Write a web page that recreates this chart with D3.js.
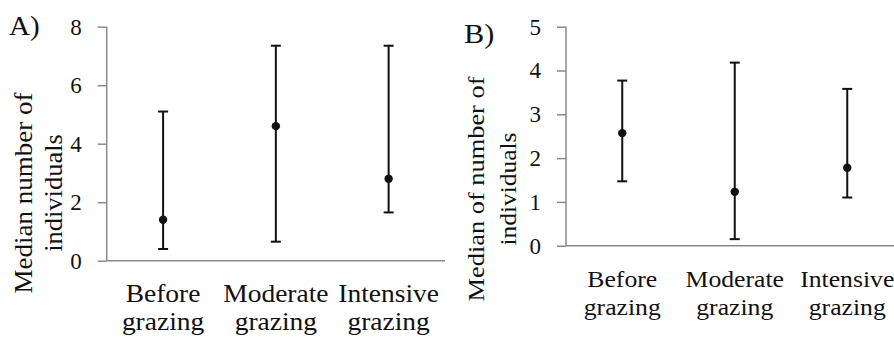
<!DOCTYPE html>
<html>
<head>
<meta charset="utf-8">
<script src="https://cdn.jsdelivr.net/npm/d3@7"></script>
<style>
  html, body { margin: 0; padding: 0; background: #fff; }
  svg { display: block; }
  text { font-family: "Liberation Serif", "Times New Roman", serif; fill: #111; }
</style>
</head>
<body>
<svg id="chart" width="894" height="337"></svg>
<script>
// Grazing treatments shared by both panels
const categories = ["Before grazing", "Moderate grazing", "Intensive grazing"];

// Panel A: median with lower / upper range
const medianA = [1.4, 4.6, 2.8];
const lowA = [0.4, 0.65, 1.65];
const highA = [5.1, 7.35, 7.35];
const ticksA = [0, 2, 4, 6, 8];

// Panel B: median with lower / upper range
const medianB = [2.57, 1.23, 1.78];
const lowB = [1.47, 0.15, 1.1];
const highB = [3.77, 4.18, 3.58];
const ticksB = [0, 1, 2, 3, 4, 5];

const svg = d3.select("#chart");
const axisColor = "#8a8a8a";

// Text with a slight horizontal stretch, optionally rotated
function label(g, str, x, y, size, opts = {}) {
  const rot = opts.rotate || 0;
  const sx = opts.stretch || 1.1;
  return g.append("text")
    .attr("transform", `translate(${x},${y}) rotate(${rot}) scale(${sx},1)`)
    .attr("text-anchor", opts.anchor || "middle")
    .style("font-size", size + "px")
    .text(str);
}

function panel(cfg) {
  const g = svg.append("g");
  const x = d3.scaleBand().domain(categories).range(cfg.xRange);
  const y = d3.scaleLinear().domain(cfg.yDomain).range(cfg.yRange);

  // y axis
  const ya = g.append("g")
    .attr("transform", `translate(${cfg.xRange[0]},0)`)
    .call(d3.axisLeft(y).tickValues(cfg.ticks).tickSize(9).tickPadding(16).tickFormat(d3.format("d")));
  ya.selectAll("path, line").attr("stroke", axisColor).attr("stroke-width", 1.5);
  ya.select(".domain").attr("d", `M0,${cfg.yRange[1]}V${cfg.yRange[0]}`);
  ya.selectAll("text")
    .style("font-family", '"Liberation Serif", serif')
    .style("font-size", cfg.tickSize + "px")
    .attr("fill", "#111");

  // x axis baseline
  const xa = g.append("g")
    .attr("transform", `translate(0,${cfg.yRange[0]})`)
    .call(d3.axisBottom(x).tickSize(0).tickFormat(""));
  xa.select(".domain").attr("stroke", axisColor).attr("stroke-width", 1.5)
    .attr("d", `M${cfg.xRange[0]},0H${cfg.xRange[1]}`);

  // two-line category labels
  categories.forEach(c => {
    const cx = x(c) + x.bandwidth() / 2;
    const parts = c.split(" ");
    label(g, parts[0], cx, cfg.catY[0], cfg.fontSize, { stretch: cfg.catStretch });
    label(g, parts[1], cx, cfg.catY[1], cfg.fontSize, { stretch: cfg.catStretch });
  });

  // range bars with caps and median points
  const cap = 5;
  const rows = categories.map((c, i) => ({ c, m: cfg.median[i], lo: cfg.low[i], hi: cfg.high[i] }));
  const bars = g.append("g").selectAll("g").data(rows).join("g")
    .attr("transform", d => `translate(${x(d.c) + x.bandwidth() / 2},0)`);
  bars.append("line").attr("y1", d => y(d.lo)).attr("y2", d => y(d.hi))
    .attr("stroke", "#111").attr("stroke-width", 2);
  bars.append("line").attr("x1", -cap).attr("x2", cap).attr("y1", d => y(d.hi)).attr("y2", d => y(d.hi))
    .attr("stroke", "#111").attr("stroke-width", 2);
  bars.append("line").attr("x1", -cap).attr("x2", cap).attr("y1", d => y(d.lo)).attr("y2", d => y(d.lo))
    .attr("stroke", "#111").attr("stroke-width", 2);
  bars.append("circle").attr("cy", d => y(d.m)).attr("r", 4.2).attr("fill", "#111");

  // axis titles and panel letter
  cfg.title.forEach((t, i) => label(g, t, cfg.titleX[i], cfg.titleY, cfg.fontSize, { rotate: -90, stretch: cfg.titleStretch[i] }));
  label(g, cfg.letter, cfg.letterX, cfg.letterY, cfg.letterSize, { anchor: "start", stretch: 1.08 });
}

panel({
  xRange: [106.7, 445], yRange: [260.7, 26.7], yDomain: [0, 8], ticks: ticksA,
  median: medianA, low: lowA, high: highA,
  fontSize: 25, tickSize: 23, catY: [301.5, 330], catStretch: 1.1,
  title: ["Median number of", "individuals"], titleX: [32, 62], titleY: 193, titleStretch: [1.08, 1.06],
  letter: "A)", letterX: 9, letterY: 35, letterSize: 27
});

panel({
  xRange: [566, 903.5], yRange: [245.7, 26.7], yDomain: [0, 5], ticks: ticksB,
  median: medianB, low: lowB, high: highB,
  fontSize: 24, tickSize: 23, catY: [286.5, 315], catStretch: 1.07,
  title: ["Median of number of", "individuals"], titleX: [484, 516], titleY: 189, titleStretch: [1.1, 1.06],
  letter: "B)", letterX: 464, letterY: 43, letterSize: 28
});
</script>
</body>
</html>
